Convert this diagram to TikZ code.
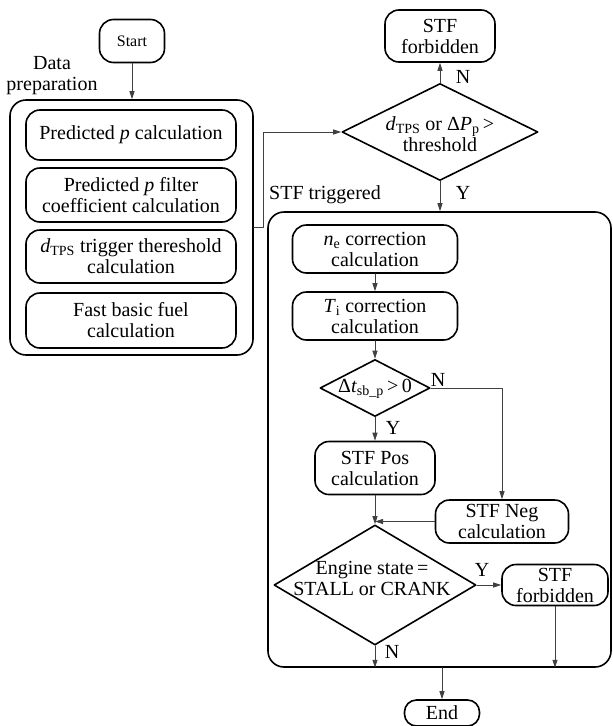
\documentclass[tikz,border=0pt]{standalone}
\usepackage{fontspec}
\setmainfont{Liberation Serif}
\usepackage{tikz}
\usetikzlibrary{arrows.meta,shapes.geometric}
\begin{document}
\begin{tikzpicture}[x=1pt,y=-1pt,line cap=round,line join=round,>={Triangle[length=8pt,width=5pt]},
  font=\fontsize{20}{21}\selectfont,
  blk/.style={draw,line width=1.6pt,rounded corners=14pt,align=center,inner sep=0pt},
  frame/.style={draw,line width=1.6pt,rounded corners=16pt,inner sep=0pt},
  dec/.style={draw,diamond,line width=1.6pt,inner sep=0pt},
  con/.style={->,line width=0.8pt,draw=black!75},
  yn/.style={inner sep=0pt}]
\useasboundingbox (0,0) rectangle (613,726);
\node[blk,minimum width=65,minimum height=43,font=\fontsize{16}{18}\selectfont] (start) at (132,41) {Start};
\node[align=center] (prept) at (52,76) {Data\\preparation};
\node[frame,minimum width=243,minimum height=255] (prep) at (131.5,227.5) {};
\node[blk,minimum width=210,minimum height=50] (pp) at (131,135) {Predicted \textit{p} calculation};
\node[blk,minimum width=210,minimum height=54] (pf) at (131,195) {Predicted \textit{p} filter\\coefficient calculation};
\node[blk,minimum width=210,minimum height=53] (pth) at (131,256.5) {\textit{d}\textsubscript{TPS} trigger thereshold\\calculation};
\node[blk,minimum width=210,minimum height=55] (pfuel) at (131,320.5) {Fast basic fuel\\calculation};
\node[dec,minimum width=196,minimum height=97] (d1) at (440,132) {};
\node[align=center] (d1t) at (440,134) {\textit{d}\textsubscript{TPS} or Δ\textit{P}\textsubscript{p}\,>\\threshold};
\node[blk,minimum width=110,minimum height=52] (forb1) at (440,36) {STF\\forbidden};
\node[anchor=west,inner sep=0pt] (trigt) at (269,195) {STF triggered};
\node[frame,minimum width=343,minimum height=455] (trig) at (439.5,439.5) {};
\node[blk,minimum width=165,minimum height=48] (ne) at (375,249) {\textit{n}\textsubscript{e} correction\\calculation};
\node[blk,minimum width=165,minimum height=48] (ti) at (375,316) {\textit{T}\textsubscript{i} correction\\calculation};
\node[dec,minimum width=110,minimum height=57] (d2) at (375,388) {};
\node (d2t) at (375,389) {Δ\textit{t}\textsubscript{sb\_p}\,>\,0};
\node[blk,minimum width=120,minimum height=53] (pos) at (375,468) {STF Pos\\calculation};
\node[blk,minimum width=133,minimum height=43] (neg) at (502,521.5) {STF Neg\\calculation};
\node[dec,minimum width=202,minimum height=120] (d3) at (375,585) {};
\node[align=center] (d3t) at (372,578) {Engine state\,=\\STALL or CRANK};
\node[blk,minimum width=106,minimum height=41] (forb2) at (555,585) {STF\\forbidden};
\node[blk,minimum width=75,minimum height=26,rounded corners=12pt] (end) at (442,713) {End};
\node[yn] (n1) at (463,77) {N};
\node[yn] (y1) at (463,193) {Y};
\node[yn] (n2) at (438,380) {N};
\node[yn] (y2) at (393,428) {Y};
\node[yn] (y3) at (482,570) {Y};
\node[yn] (n3) at (392,652) {N};
\draw[con] (start.south) -- (prep.north -| start.south);
\draw[con] (prep.east) -- ++(10,0) |- (d1.west);
\draw[con] (d1.north) -- (forb1.south);
\draw[con] (d1.south) -- (d1.south |- trig.north);
\draw[con] (ne.south) -- (ti.north);
\draw[con] (ti.south) -- (d2.north);
\draw[con] (d2.south) -- (pos.north);
\draw[con] (d2.east) -| (neg.north);
\draw[con] (pos.south) -- (d3.north);
\draw[con] (neg.west) -- (neg.west -| pos.south);
\draw[con] (d3.east) -- (forb2.west);
\draw[con] (d3.south) -- (d3.south |- trig.south);
\draw[con] (forb2.south) -- (forb2.south |- trig.south);
\draw[con] (end.north |- trig.south) -- (end.north);
\end{tikzpicture}
\end{document}
